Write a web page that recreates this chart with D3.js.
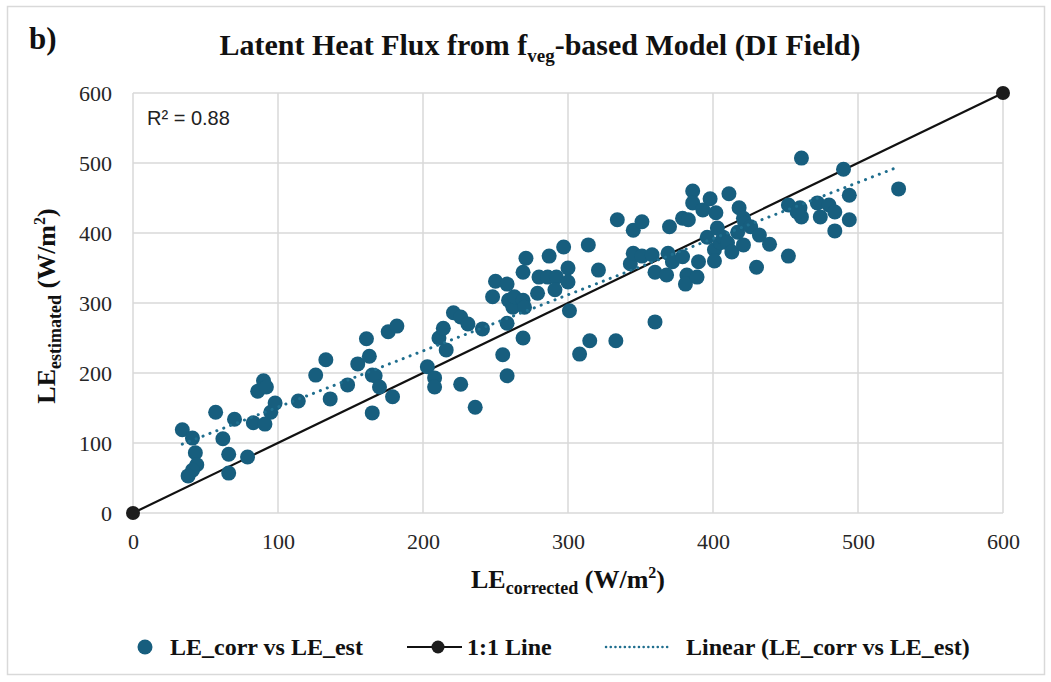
<!DOCTYPE html>
<html>
<head>
<meta charset="utf-8">
<script src="https://cdn.jsdelivr.net/npm/d3@7"></script>
<style>
  body { margin: 0; background: #fff; }
  .serif { font-family: "Liberation Serif", "Times New Roman", serif; }
</style>
</head>
<body>
<svg class="chart"></svg>
<script>
// LE_corrected (x) and LE_estimated (y), W/m2
const leCorrected = [34,41,43,44,41,38,57,62,66,66,70,79,83,91,86,90,92,95,98,114,
  126,133,136,148,155,161,163,165,167,170,165,179,176,182,
  203,208,208,226,236,211,214,216,221,226,231,241,255,258,258,269,
  248,250,258,259,262,263,269,270,269,271,279,280,287,286,292,291,297,300,300,301,
  314,321,308,315,333,343,345,351,358,360,360,345,351,334,
  370,379,383,386,386,393,398,402,411,418,421,461,490,528,494,494,484,452,460,461,
  458,472,474,480,484,369,368,372,379,382,381,389,390,396,403,401,401,405,407,410,
  413,417,421,422,426,432,439,430,452];
const leEstimated = [119,107,86,69,61,53,144,106,84,57,134,80,129,127,174,189,180,144,157,160,
  197,219,163,183,213,249,224,197,196,180,143,166,259,267,
  209,193,180,184,151,250,264,233,286,280,270,263,226,196,271,250,
  309,331,327,304,294,309,304,294,344,364,314,337,367,337,337,319,380,350,330,289,
  383,347,227,246,246,356,371,367,369,344,273,404,416,419,
  409,421,419,460,443,433,449,429,456,436,421,507,491,463,454,419,403,440,436,423,
  430,443,423,440,430,371,340,359,366,340,327,337,359,394,407,376,360,386,394,386,
  373,401,383,414,409,397,384,351,367];

const xTicks = [0, 100, 200, 300, 400, 500, 600];
const yTicks = [0, 100, 200, 300, 400, 500, 600];
const oneToOne = [[0, 0], [600, 600]];
const r2Label = "R² = 0.88";

const W = 1051, H = 682;
const margin = {top: 93, right: 48, bottom: 169, left: 133};
const widthChart = W - margin.left - margin.right;
const heightChart = H - margin.top - margin.bottom;

const blue = "#175e7e";
const grid = "#d9d9d9";
const ink = "#111";

const svg = d3.select(".chart").attr("width", W).attr("height", H);

// outer frame
svg.append("rect")
  .attr("x", 7.5).attr("y", 6.5)
  .attr("width", 1037).attr("height", 668)
  .attr("fill", "none").attr("stroke", grid).attr("stroke-width", 1.5);

const chart = svg.append("g")
  .attr("transform", "translate(" + margin.left + "," + margin.top + ")");

const x = d3.scaleLinear().domain([0, 600]).range([0, widthChart]);
const y = d3.scaleLinear().domain([0, 600]).range([heightChart, 0]);

// gridlines
chart.append("g").selectAll("line").data(yTicks).enter().append("line")
  .attr("x1", 0).attr("x2", widthChart)
  .attr("y1", d => y(d)).attr("y2", d => y(d))
  .attr("stroke", grid).attr("stroke-width", 1.5);
chart.append("g").selectAll("line").data(xTicks).enter().append("line")
  .attr("y1", 0).attr("y2", heightChart)
  .attr("x1", d => x(d)).attr("x2", d => x(d))
  .attr("stroke", grid).attr("stroke-width", 1.5);

// axes (labels only, lines come from the grid)
const xAxis = d3.axisBottom(x).tickValues(xTicks).tickSize(0).tickPadding(20);
const yAxis = d3.axisLeft(y).tickValues(yTicks).tickSize(0).tickPadding(21);

chart.append("g").attr("class", "x axis")
  .attr("transform", "translate(0," + heightChart + ")")
  .call(xAxis);
chart.append("g").attr("class", "y axis").call(yAxis);
chart.selectAll(".axis .domain").remove();
chart.selectAll(".axis text")
  .attr("font-family", "Liberation Serif, Times New Roman, serif")
  .attr("font-size", 22)
  .attr("fill", "#262626");

// 1:1 line
chart.append("line")
  .attr("x1", x(oneToOne[0][0])).attr("y1", y(oneToOne[0][1]))
  .attr("x2", x(oneToOne[1][0])).attr("y2", y(oneToOne[1][1]))
  .attr("stroke", ink).attr("stroke-width", 2.2);

// scatter
const pts = leCorrected.map((v, i) => [v, leEstimated[i]]);
chart.append("g").selectAll("circle").data(pts).enter().append("circle")
  .attr("cx", d => x(d[0])).attr("cy", d => y(d[1]))
  .attr("r", 7.5)
  .attr("fill", blue);

// linear fit through the scatter
const mx = d3.mean(leCorrected), my = d3.mean(leEstimated);
const slope = d3.sum(pts, d => (d[0] - mx) * (d[1] - my)) / d3.sum(pts, d => (d[0] - mx) * (d[0] - mx));
const icpt = my - slope * mx;
const [x0, x1] = d3.extent(leCorrected);
chart.append("line")
  .attr("x1", x(x0)).attr("y1", y(icpt + slope * x0))
  .attr("x2", x(x1)).attr("y2", y(icpt + slope * x1))
  .attr("stroke", "#1f6e8e").attr("stroke-width", 3)
  .attr("stroke-dasharray", "0.1,7.3").attr("stroke-linecap", "round");

// 1:1 end markers
chart.append("g").selectAll("circle").data(oneToOne).enter().append("circle")
  .attr("cx", d => x(d[0])).attr("cy", d => y(d[1]))
  .attr("r", 7)
  .attr("fill", "#1c1c1c");

// R2 label
chart.append("text")
  .attr("x", 14).attr("y", 32)
  .attr("font-family", "Liberation Sans, Arial, sans-serif")
  .attr("font-size", 20).attr("fill", "#222")
  .text(r2Label);

// title
const title = svg.append("text").attr("class", "serif")
  .attr("x", 540).attr("y", 55)
  .attr("text-anchor", "middle")
  .attr("font-size", 30).attr("font-weight", "bold").attr("fill", ink);
title.append("tspan").text("Latent Heat Flux from f");
title.append("tspan").attr("font-size", 19).attr("dy", 7).text("veg");
title.append("tspan").attr("dy", -7).text("-based Model (DI Field)");

svg.append("text").attr("class", "serif")
  .attr("x", 29).attr("y", 49)
  .attr("font-size", 31).attr("font-weight", "bold").attr("fill", ink)
  .text("b)");

// x axis title
const xt = svg.append("text").attr("class", "serif")
  .attr("x", 568).attr("y", 588)
  .attr("text-anchor", "middle")
  .attr("font-size", 26).attr("font-weight", "bold").attr("fill", ink);
xt.append("tspan").text("LE");
xt.append("tspan").attr("font-size", 18).attr("dy", 6).text("corrected");
xt.append("tspan").attr("dy", -6).text(" (W/m");
xt.append("tspan").attr("font-size", 16).attr("dy", -10).text("2");
xt.append("tspan").attr("dy", 10).text(")");

// y axis title
const yt = svg.append("text").attr("class", "serif")
  .attr("transform", "translate(55,306) rotate(-90)")
  .attr("text-anchor", "middle")
  .attr("font-size", 26).attr("font-weight", "bold").attr("fill", ink);
yt.append("tspan").text("LE");
yt.append("tspan").attr("font-size", 18).attr("dy", 6).text("estimated");
yt.append("tspan").attr("dy", -6).text(" (W/m");
yt.append("tspan").attr("font-size", 16).attr("dy", -10).text("2");
yt.append("tspan").attr("dy", 10).text(")");

// legend
const lg = svg.append("g").attr("class", "serif").attr("transform", "translate(0,647)");
lg.append("circle").attr("cx", 145).attr("cy", 0).attr("r", 7.5).attr("fill", blue);
lg.append("text").attr("x", 170).attr("y", 8)
  .attr("font-size", 24).attr("font-weight", "bold").attr("fill", ink)
  .text("LE_corr vs LE_est");
lg.append("line").attr("x1", 407).attr("x2", 462).attr("y1", 0).attr("y2", 0)
  .attr("stroke", ink).attr("stroke-width", 2.2);
lg.append("circle").attr("cx", 438).attr("cy", 0).attr("r", 6.5).attr("fill", "#1c1c1c");
lg.append("text").attr("x", 467).attr("y", 8)
  .attr("font-size", 24).attr("font-weight", "bold").attr("fill", ink)
  .text("1:1 Line");
lg.append("line").attr("x1", 606).attr("x2", 670).attr("y1", 0).attr("y2", 0)
  .attr("stroke", "#1f6e8e").attr("stroke-width", 2.5)
  .attr("stroke-dasharray", "0.1,4.6").attr("stroke-linecap", "round");
lg.append("text").attr("x", 686).attr("y", 8)
  .attr("font-size", 24).attr("font-weight", "bold").attr("fill", ink)
  .text("Linear (LE_corr vs LE_est)");
</script>
</body>
</html>
